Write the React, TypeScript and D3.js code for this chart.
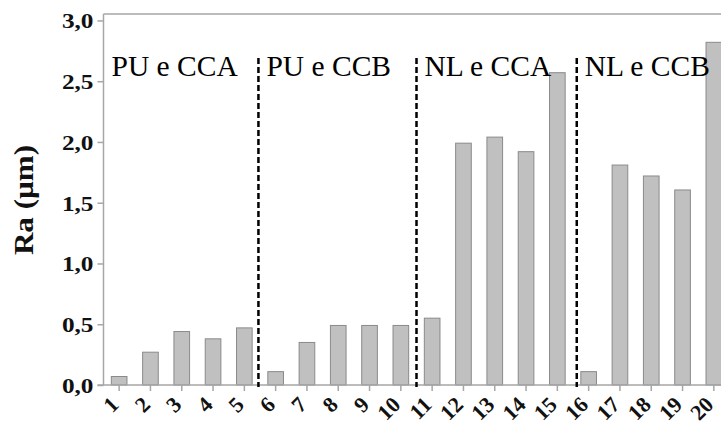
import React, { useRef, useEffect } from 'react'
import * as d3 from 'd3'

const categories = ['1', '2', '3', '4', '5', '6', '7', '8', '9', '10',
    '11', '12', '13', '14', '15', '16', '17', '18', '19', '20']
const raValues = [0.07, 0.27, 0.44, 0.38, 0.47, 0.11, 0.35, 0.49, 0.49, 0.49,
    0.55, 1.99, 2.04, 1.92, 2.57, 0.11, 1.81, 1.72, 1.605, 2.82]
const yTicks = [0, 0.5, 1.0, 1.5, 2.0, 2.5, 3.0]
const groupLabels = ['PU e CCA', 'PU e CCB', 'NL e CCA', 'NL e CCB']
// divider positions in category units (1 = centre of first bar)
const dividers = [5.45, 10.5, 15.62]

const serif = "'Liberation Serif', 'DejaVu Serif', serif"

export default function App() {
    const svgRef = useRef<SVGSVGElement>(null)

    useEffect(() => {
        const svg = d3.select(svgRef.current)
        svg.selectAll('*').remove()

        const left = 103.5
        const bottom = 385
        const top = 14

        const x = d3.scaleBand()
            .domain(categories)
            .range([left, 729.5])
            .paddingInner(0.5)
            .paddingOuter(0.25)

        const y = d3.scaleLinear()
            .domain([0, 3.053])
            .range([bottom, top])

        const xPos = (p: number) => (x('1') as number) + x.bandwidth() / 2 + (p - 1) * x.step()
        const fmt = (d: number) => d3.format('.1f')(d).replace('.', ',')
        const axisColor = '#a6a6a6'

        // frame top
        svg.append('line')
            .attr('x1', left).attr('x2', 721)
            .attr('y1', top).attr('y2', top)
            .attr('stroke', axisColor).attr('stroke-width', 1.5)

        // bars
        svg.selectAll('.bar')
            .data(raValues)
            .join('rect')
            .attr('class', 'bar')
            .attr('x', (d, i) => x(categories[i]) as number)
            .attr('width', x.bandwidth())
            .attr('y', d => y(d))
            .attr('height', d => bottom - y(d))
            .attr('fill', '#c0c0c0')
            .attr('stroke', '#8a8a8a')
            .attr('stroke-width', 1)

        // y axis
        const yAxis = d3.axisLeft(y)
            .tickValues(yTicks)
            .tickFormat(d => fmt(d as number))
            .tickSize(6)
            .tickPadding(4)
            .tickSizeOuter(0)

        const yg = svg.append('g')
            .attr('transform', `translate(${left},0)`)
            .call(yAxis)
        yg.attr('font-family', null).attr('font-size', null)
        yg.select('.domain').attr('stroke', axisColor).attr('stroke-width', 1.5)
            .attr('d', `M0,${bottom}V${top}`)
        yg.selectAll('.tick line').attr('stroke', axisColor).attr('stroke-width', 1.5)
        yg.selectAll('.tick text')
            .style('font-family', serif)
            .style('font-weight', 'bold')
            .style('font-size', '22px')
            .attr('fill', '#111')
            .attr('x', null)
            .attr('dy', null)
            .attr('dominant-baseline', 'central')
            .attr('transform', 'translate(-10,0) scale(1.15,1)')

        // x axis
        const xAxis = d3.axisBottom(x)
            .tickSize(6)
            .tickSizeOuter(0)

        const xg = svg.append('g')
            .attr('transform', `translate(0,${bottom})`)
            .call(xAxis)
        xg.attr('font-family', null).attr('font-size', null)
        xg.select('.domain').attr('stroke', axisColor).attr('stroke-width', 1.5)
            .attr('d', `M${left - 6},0H721`)
        xg.selectAll('.tick line').attr('stroke', axisColor).attr('stroke-width', 1.5)
        xg.selectAll('.tick text')
            .style('font-family', serif)
            .style('font-weight', 'bold')
            .style('font-size', '22px')
            .attr('fill', '#111')
            .attr('text-anchor', 'end')
            .attr('y', null)
            .attr('dy', null)
            .attr('transform', 'translate(1,21) rotate(-45)')

        // dashed dividers
        svg.selectAll('.divider')
            .data(dividers)
            .join('line')
            .attr('class', 'divider')
            .attr('x1', d => xPos(d)).attr('x2', d => xPos(d))
            .attr('y1', 58).attr('y2', bottom + 2)
            .attr('stroke', '#000')
            .attr('stroke-width', 2.5)
            .attr('stroke-dasharray', '6,3')

        // group labels
        svg.selectAll('.group')
            .data(groupLabels)
            .join('text')
            .attr('class', 'group')
            .attr('x', (d, i) => (i === 0 ? left : xPos(dividers[i - 1])) + 8)
            .attr('y', 76)
            .style('font-family', serif)
            .style('font-size', '29.5px')
            .attr('fill', '#000')
            .text(d => d)

        // y label
        svg.append('text')
            .attr('transform', 'translate(33,200) rotate(-90) scale(1.15,1)')
            .attr('text-anchor', 'middle')
            .style('font-family', serif)
            .style('font-weight', 'bold')
            .style('font-size', '27px')
            .attr('fill', '#111')
            .text('Ra (µm)')
    }, [])

    return (
        <svg ref={svgRef} width={721} height={425}
            style={{ position: 'absolute', left: 0, top: 0, background: '#fff' }} />
    )
}
